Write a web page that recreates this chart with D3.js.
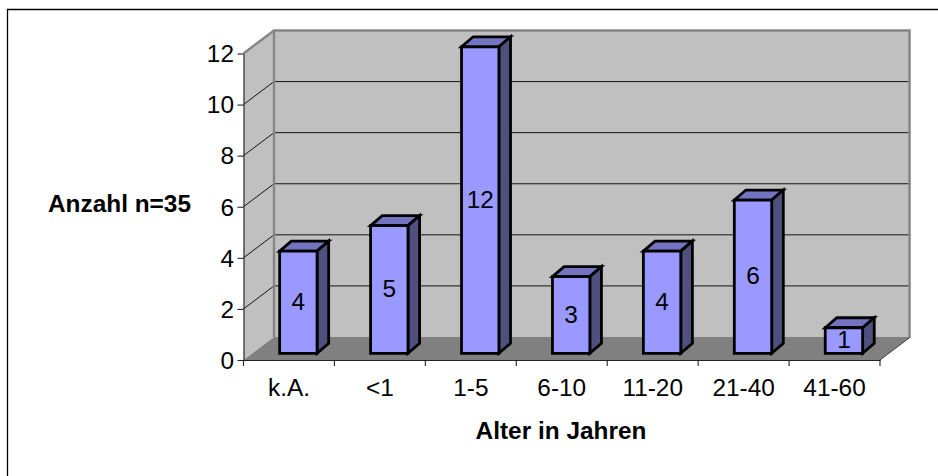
<!DOCTYPE html>
<html><head><meta charset="utf-8">
<script src="https://cdn.jsdelivr.net/npm/d3@7/dist/d3.min.js"></script>
<style>html,body{margin:0;padding:0;background:#fff}svg{display:block}text{font-family:"Liberation Sans",Arial,sans-serif;fill:#000}</style>
</head><body><svg id="c" width="938" height="476"></svg>
<script>
const categories = ["k.A.","<1","1-5","6-10","11-20","21-40","41-60"];
const counts = [4,5,12,3,4,6,1];
const yTicks = [0,2,4,6,8,10,12];
const yTitle = "Anzahl n=35";
const xTitle = "Alter in Jahren";

const svg = d3.select("#c");
const x0 = 243.5, x1 = 880, yBase = 360, yTop = 53.5, dx = 30.5, dy = -23;
const y = d3.scaleLinear().domain([0,12]).range([yBase,yTop]);
const x = d3.scaleBand().domain(categories).range([x0,x1]);
const poly = (pts,fill,stroke,sw)=>svg.append("polygon").attr("points",pts.map(p=>p.join(",")).join(" "))
  .attr("fill",fill).attr("stroke",stroke||"none").attr("stroke-width",sw||0).attr("stroke-linejoin","miter");

// chart frame
svg.append("path").attr("d","M7.5,476V9.5H938").attr("fill","none").attr("stroke","#000").attr("stroke-width",1.3);

// back wall, side wall and floor
poly([[x0+dx,yTop+dy],[x1+dx,yTop+dy],[x1+dx,yBase+dy],[x0+dx,yBase+dy]],"#c0c0c0");
poly([[x0,yTop],[x0+dx,yTop+dy],[x0+dx,yBase+dy],[x0,yBase]],"#c0c0c0");
poly([[x0,yBase],[x0+dx,yBase+dy],[x1+dx,yBase+dy],[x1,yBase]],"#808080");

// gridlines across side and back walls
yTicks.filter(t=>t>0&&t<12).forEach(t=>{
  svg.append("path").attr("d",`M${x0},${y(t)}L${x0+dx},${y(t)+dy}H${x1+dx}`)
    .attr("fill","none").attr("stroke","#000").attr("stroke-width",0.9);
});

// wall edges
svg.append("path").attr("d",`M${x0},${yTop}L${x0+dx},${yTop+dy}H${x1+dx-1}V${yBase+dy}`)
  .attr("fill","none").attr("stroke","#868686").attr("stroke-width",2.4);
svg.append("path").attr("d",`M${x0+dx},${yTop+dy}V${yBase+dy}`)
  .attr("fill","none").attr("stroke","#868686").attr("stroke-width",2.4);
svg.append("path").attr("d",`M${x1},${yBase}L${x1+dx},${yBase+dy}`)
  .attr("fill","none").attr("stroke","#333").attr("stroke-width",0.9);

// value axis
const yAxis = d3.axisLeft(y).tickValues(yTicks).tickSize(6).tickSizeOuter(0).tickFormat(d3.format("d"));
const gy = svg.append("g").attr("transform",`translate(${x0},0)`).call(yAxis);
gy.selectAll("path,line").attr("stroke","#222").attr("stroke-width",1.1);
gy.selectAll("text").attr("x",-9.5).attr("dy","0.34em").style("font-size","24.4px");

// category axis
const gx = svg.append("g").attr("transform",`translate(0,${yBase})`);
gx.call(d3.axisBottom(x).tickSize(0).tickPadding(19));
gx.select("path").attr("stroke","#222").attr("stroke-width",1.1);
gx.selectAll("text").style("font-size","24.4px");
[...categories.map(c=>x(c)),x1].forEach(p=>gx.append("line").attr("x1",p).attr("x2",p).attr("y1",0).attr("y2",6).attr("stroke","#222").attr("stroke-width",1.1));

// bars
const barW = 37.4, depthX = 11.6, depthY = -10, floorX = 11, floorY = -6.7;
categories.forEach((c,i)=>{
  const v = counts[i];
  const l = x(c)+(x.bandwidth()-barW-depthX)/2+floorX/2+9.7, r = l+barW;
  const b = yBase+floorY, t = y(v)+floorY;
  poly([[l,t],[l+depthX,t+depthY],[r+depthX,t+depthY],[r,t]],"#7373c0","#000",2.8);
  poly([[r,t],[r+depthX,t+depthY],[r+depthX,b+depthY],[r,b]],"#50507f","#000",2.8);
  poly([[l,t],[r,t],[r,b],[l,b]],"#9999ff","#000",2.8);
  svg.append("text").attr("x",(l+r)/2).attr("y",(t+b)/2-1).attr("dy","0.36em").attr("text-anchor","middle").style("font-size","24.4px").text(v);
});

// axis titles
svg.append("text").attr("x",119.5).attr("y",212).attr("text-anchor","middle").style("font-size","24.4px").style("font-weight","bold").text(yTitle);
svg.append("text").attr("x",561).attr("y",439).attr("text-anchor","middle").style("font-size","24.4px").style("font-weight","bold").text(xTitle);
</script></body></html>
